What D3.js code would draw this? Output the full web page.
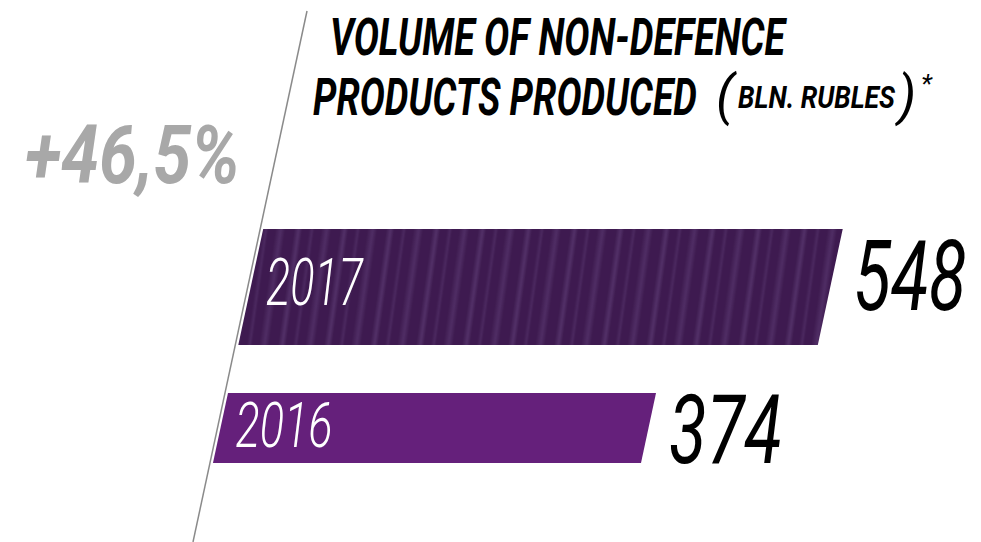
<!DOCTYPE html>
<html lang="en">
<head>
<meta charset="UTF-8">
<title>Non-defence products</title>
<script src="https://d3js.org/d3.v7.min.js"></script>
<style>
    body { margin: 0; background: #fff; }
    svg text { font-family: Roboto, "Open Sans", sans-serif; font-style: italic; }
</style>
</head>
<body>
<svg id="chart" width="981" height="542"></svg>
<script>
    // data
    var years = ["2017", "2016"];
    var values = [548, 374];
    var growthLabel = "+46,5%";
    var titleLines = ["VOLUME OF NON-DEFENCE", "PRODUCTS PRODUCED"];
    var unitLabel = "BLN. RUBLES";

    var svg = d3.select("#chart");

    // slanted base line, x shifts left as y grows
    var lineTop = {x: 307, y: 11}, lineBottom = {x: 193, y: 542};
    var shear = (lineTop.x - lineBottom.x) / (lineBottom.y - lineTop.y);
    function lineX(y) { return lineTop.x - shear * (y - lineTop.y); }

    // bar length measured from the slanted line
    var x = d3.scaleLinear().domain([0, 600]).range([105.4, 627.8]);

    // vertical layout of bars (top, bottom)
    var barBand = {"2017": [229, 345], "2016": [393, 463]};
    var barFill = {"2017": "url(#texture)", "2016": "#65207b"};

    // texture for the 2017 bar
    var defs = svg.append("defs");
    var grad = defs.append("linearGradient").attr("id", "streak")
        .attr("x1", 0).attr("x2", 1).attr("y1", 0).attr("y2", 0);
    grad.append("stop").attr("offset", "0%").attr("stop-color", "#3b184c");
    grad.append("stop").attr("offset", "55%").attr("stop-color", "#5b3a72");
    grad.append("stop").attr("offset", "100%").attr("stop-color", "#3b184c");
    var pat = defs.append("pattern").attr("id", "texture")
        .attr("patternUnits", "userSpaceOnUse")
        .attr("width", 46).attr("height", 120)
        .attr("patternTransform", "skewX(-8)");
    pat.append("rect").attr("width", 46).attr("height", 120).attr("fill", "#3e1a50");
    pat.append("rect").attr("x", 4).attr("width", 9).attr("height", 120).attr("fill", "url(#streak)").attr("opacity", 0.7);
    pat.append("rect").attr("x", 19).attr("width", 6).attr("height", 120).attr("fill", "url(#streak)").attr("opacity", 0.45);
    pat.append("rect").attr("x", 31).attr("width", 11).attr("height", 120).attr("fill", "url(#streak)").attr("opacity", 0.6);

    svg.append("line")
        .attr("x1", lineTop.x).attr("y1", lineTop.y)
        .attr("x2", lineBottom.x).attr("y2", lineBottom.y)
        .attr("stroke", "#8a8a8a").attr("stroke-width", 1.5);

    var data = years.map(function(y, i) { return {year: y, value: values[i]}; });

    svg.selectAll(".bar")
        .data(data)
        .enter()
        .append("path")
        .attr("class", "bar")
        .attr("d", function(d) {
            var t = barBand[d.year][0], b = barBand[d.year][1];
            var len = x(d.value);
            return "M" + (lineX(t) + 3) + "," + t +
                "L" + (lineX(t) + len) + "," + t +
                "L" + (lineX(b) + len) + "," + b +
                "L" + (lineX(b) + 3) + "," + b + "Z";
        })
        .attr("fill", function(d) { return barFill[d.year]; });

    // year labels inside bars
    var yearPos = {"2017": {dx: 22, base: 305, size: 66, w: 97}, "2016": {dx: 22, base: 447, size: 62, w: 97}};
    svg.selectAll(".year")
        .data(data)
        .enter()
        .append("text")
        .attr("class", "year")
        .attr("x", function(d) { var p = yearPos[d.year]; return lineX(p.base) + p.dx; })
        .attr("y", function(d) { return yearPos[d.year].base; })
        .attr("font-size", function(d) { return yearPos[d.year].size; })
        .attr("font-weight", 300)
        .attr("fill", "#fff")
        .attr("textLength", function(d) { return yearPos[d.year].w; })
        .attr("lengthAdjust", "spacingAndGlyphs")
        .text(function(d) { return d.year; });

    // value labels right of bars
    var valPos = {"2017": {base: 310, size: 98}, "2016": {base: 463, size: 96}};
    svg.selectAll(".val")
        .data(data)
        .enter()
        .append("text")
        .attr("class", "val")
        .attr("x", function(d) { var b = valPos[d.year].base; return lineX(b) + x(d.value) + 28; })
        .attr("y", function(d) { return valPos[d.year].base; })
        .attr("font-size", function(d) { return valPos[d.year].size; })
        .attr("font-weight", 400)
        .attr("fill", "#000")
        .attr("textLength", 113)
        .attr("lengthAdjust", "spacingAndGlyphs")
        .text(function(d) { return d.value; });

    // growth label
    svg.append("text")
        .attr("x", 25).attr("y", 183)
        .attr("font-size", 82).attr("font-weight", 700)
        .attr("fill", "#a8a8a8")
        .attr("textLength", 215).attr("lengthAdjust", "spacingAndGlyphs")
        .text(growthLabel);

    // title
    svg.append("text")
        .attr("x", 330).attr("y", 55)
        .attr("font-size", 52).attr("font-weight", 700)
        .attr("textLength", 455).attr("lengthAdjust", "spacingAndGlyphs")
        .text(titleLines[0]);

    var t2 = svg.append("text")
        .attr("y", 115)
        .attr("font-size", 52).attr("font-weight", 700);
    t2.append("tspan")
        .attr("x", 313)
        .attr("textLength", 384).attr("lengthAdjust", "spacingAndGlyphs")
        .text(titleLines[1]);
    t2.append("tspan").attr("x", 716).attr("y", 114)
        .attr("font-size", 54).attr("font-weight", 400)
        .text("(");
    t2.append("tspan").attr("x", 738).attr("y", 108)
        .attr("font-size", 32)
        .attr("textLength", 157).attr("lengthAdjust", "spacingAndGlyphs")
        .text(unitLabel);
    t2.append("tspan").attr("x", 898).attr("y", 114)
        .attr("font-size", 54).attr("font-weight", 400)
        .text(")");
    t2.append("tspan").attr("x", 921).attr("y", 92)
        .attr("font-size", 26).attr("font-weight", 400)
        .text("*");
</script>
</body>
</html>
